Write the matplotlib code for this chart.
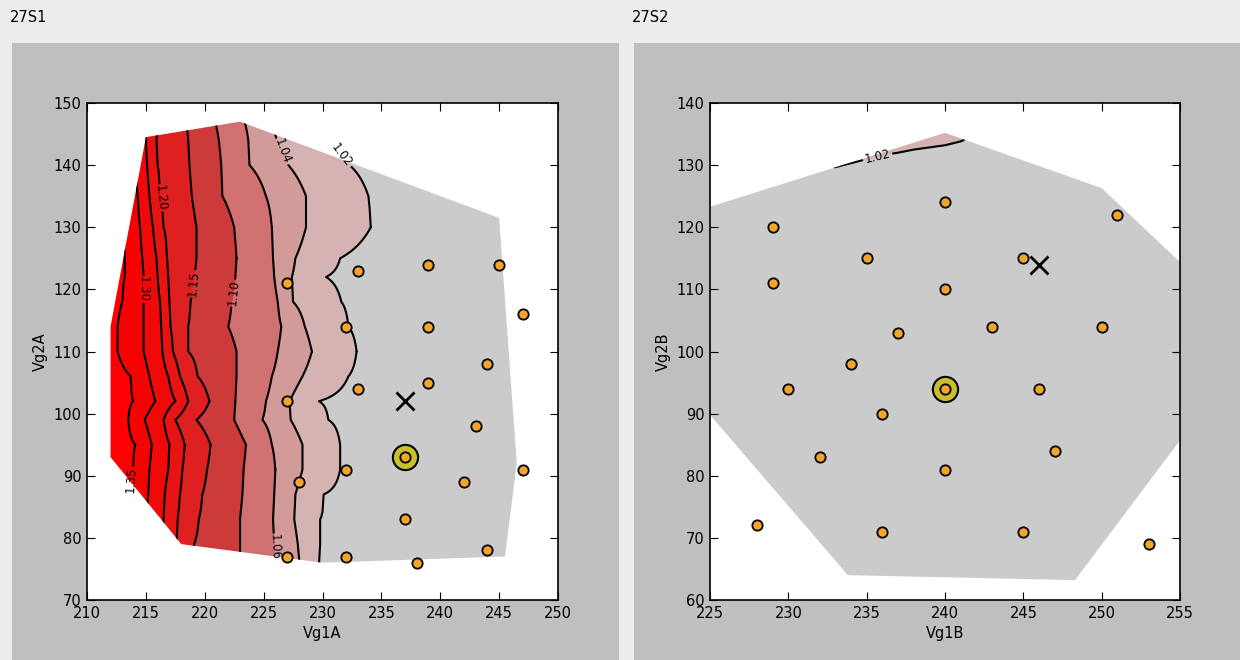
import numpy as np
import matplotlib.pyplot as plt
from matplotlib.patches import Polygon, Rectangle

# ---- left panel (27S1) data ----
levels_a = [1.02, 1.04, 1.06, 1.10, 1.15, 1.20, 1.25, 1.30, 1.35]
rows_a = [148, 144, 140, 135, 130, 125, 122, 118, 114, 110, 106, 102, 99, 95, 91, 87, 83, 79, 75]
# Vg1A where each contour level crosses the row above
cross_102 = [229.6, 229.6, 232.3, 233.9, 234.1, 231.5, 230.3, 231.6, 232.2, 232.9, 232.2, 229.7, 230.5, 231.5, 231.5, 230.1, 229.8, 229.8, 229.6]
cross_104 = [225.4, 226.1, 227.1, 228.6, 228.6, 227.7, 227.4, 227.5, 228.5, 229.1, 228.3, 227.2, 227.3, 228.3, 228.3, 227.7, 227.6, 227.9, 228.1]
cross_106 = [223.2, 223.7, 223.8, 225.2, 225.7, 225.8, 225.9, 226.2, 226.5, 226.2, 225.7, 225.2, 224.9, 225.7, 226.0, 225.9, 225.8, 225.9, 226.0]
cross_110 = [220.8, 221.2, 221.4, 221.5, 222.5, 222.7, 222.6, 222.3, 222.0, 222.7, 222.7, 222.6, 222.5, 223.5, 223.3, 223.2, 223.0, 223.0, 223.0]
cross_115 = [218.4, 218.6, 218.7, 218.9, 219.3, 219.3, 219.1, 218.8, 218.6, 218.6, 219.4, 220.4, 219.3, 220.5, 220.2, 219.8, 219.5, 219.1, 218.9]
cross_120 = [216.0, 215.9, 216.0, 216.2, 216.5, 216.8, 216.9, 217.0, 217.1, 217.3, 217.9, 218.6, 217.5, 218.3, 218.1, 217.9, 217.7, 217.6, 217.5]
cross_125 = [215.0, 215.0, 215.1, 215.3, 215.6, 215.9, 216.0, 216.2, 216.3, 216.4, 216.9, 217.5, 216.5, 217.0, 216.9, 216.6, 216.5, 216.4, 216.2]
cross_130 = [213.8, 213.9, 214.1, 214.3, 214.5, 214.7, 214.8, 214.8, 214.8, 214.8, 215.3, 215.8, 214.9, 215.5, 215.3, 215.2, 215.0, 214.9, 214.9]
cross_135 = [212.6, 212.6, 212.8, 213.0, 213.1, 213.2, 213.2, 213.0, 212.6, 212.6, 213.7, 213.9, 213.5, 214.1, 213.9, 213.7, 213.5, 213.4, 213.4]
hull_a = [(212, 93), (212, 114), (215, 144.5), (223, 147), (245, 131.5),
          (246.5, 92), (245.5, 77), (230, 76), (218, 79)]

pts_a_x = [227, 233, 239, 245, 247, 232, 239, 244, 233, 239, 227, 243, 232, 242, 247, 228, 237, 244, 227, 232, 238]
pts_a_y = [121, 123, 124, 124, 116, 114, 114, 108, 104, 105, 102, 98, 91, 89, 91, 89, 83, 78, 77, 77, 76]
best_a = (237, 93)
mark_a = (237, 102)

# ---- right panel (27S2) data ----
grid_b_x = [225, 230, 233, 236, 238, 240, 241, 242, 245, 255]
grid_b_y = [60, 126, 128, 130, 132, 134, 136]
grid_b_z = [
    [1.00, 1.00, 1.00, 1.00, 1.00, 1.00, 1.00, 1.00, 1.00, 1.00],
    [1.00, 1.00, 1.00, 1.00, 1.00, 1.00, 1.00, 1.00, 1.00, 1.00],
    [1.00, 1.00, 1.00, 1.00, 1.00, 1.00, 1.00, 1.00, 1.00, 1.00],
    [1.00, 1.005, 1.024, 1.00, 1.00, 1.00, 1.00, 1.00, 1.00, 1.00],
    [1.00, 1.015, 1.04, 1.025, 1.015, 1.005, 1.00, 1.00, 1.00, 1.00],
    [1.00, 1.03, 1.05, 1.04, 1.035, 1.03, 1.022, 1.01, 1.00, 1.00],
    [1.00, 1.04, 1.06, 1.05, 1.045, 1.04, 1.035, 1.02, 1.00, 1.00],
]
hull_b = [(225, 123.3), (240, 135.2), (250, 126.3), (255, 114.4),
          (255, 85.7), (248.3, 63.2), (233.8, 64), (225, 89.8)]

pts_b_x = [229, 229, 240, 251, 235, 245, 240, 237, 243, 250, 234, 230, 246, 236, 232, 240, 247, 228, 236, 245, 253]
pts_b_y = [120, 111, 124, 122, 115, 115, 110, 103, 104, 104, 98, 94, 94, 90, 83, 81, 84, 72, 71, 71, 69]
best_b = (240, 94)
mark_b = (246, 114)

band_colors = ['#cbcbcb', '#d5b3b3', '#d39a9a', '#d07070', '#cd3a3a',
               '#de2020', '#e81313', '#ef0909', '#f50303', '#ff0000']


def draw_panel(ax, X, Y, Z, hull, px, py, best, mark, label_pos):
    fill_levels = [0.9] + levels_a + [1.6]
    clip = Polygon(hull, closed=True, transform=ax.transData,
                   facecolor='none', edgecolor='none')
    ax.add_patch(clip)
    cf = ax.contourf(X, Y, Z, levels=fill_levels, colors=band_colors)
    cf.set_clip_path(clip)
    cl = ax.contour(X, Y, Z, levels=levels_a, colors='k', linewidths=1.5)
    cl.set_clip_path(clip)
    if label_pos:
        ax.clabel(cl, fmt='%.2f', fontsize=8.5, inline=True,
                  inline_spacing=2, manual=label_pos)
    ax.scatter([best[0]], [best[1]], s=330, c='#c8c02a', edgecolors='k',
               linewidths=1.5, zorder=4)
    ax.scatter(px + [best[0]], py + [best[1]], s=55, c='#f2a52a',
               edgecolors='k', linewidths=1.3, zorder=5)
    ax.plot([mark[0]], [mark[1]], 'x', color='k', ms=13, mew=2, zorder=6)
    ax.tick_params(direction='in', top=True, right=True, length=6,
                   labelsize=10.5, pad=4)
    for s in ax.spines.values():
        s.set_linewidth(1.2)


fig = plt.figure(figsize=(12.4, 6.6), dpi=100, facecolor='#ececec')
W, H = 1240.0, 660.0
fig.add_artist(Rectangle((12 / W, 0), 607 / W, 617 / H, transform=fig.transFigure,
                         facecolor='#bfbfbf', edgecolor='none', zorder=0))
fig.add_artist(Rectangle((634 / W, 0), 606 / W, 617 / H, transform=fig.transFigure,
                         facecolor='#bfbfbf', edgecolor='none', zorder=0))
fig.text(10 / W, 1 - 18 / H, '27S1', fontsize=10.5, va='center')
fig.text(632 / W, 1 - 18 / H, '27S2', fontsize=10.5, va='center')

# left
ax1 = fig.add_axes([87 / W, 60 / H, 471 / W, 497 / H])
xg = np.arange(205, 252.01, 0.1)
crossings = [cross_102, cross_104, cross_106, cross_110, cross_115,
             cross_120, cross_125, cross_130, cross_135]
za = []
for i in range(len(rows_a)):
    xs = [205] + [c[i] for c in crossings][::-1] + [252]
    zs = [1.45] + levels_a[::-1] + [0.98]
    za.append(np.interp(xg, xs, zs))
XA, YA = np.meshgrid(xg, rows_a)
draw_panel(ax1, XA, YA, np.array(za), hull_a, pts_a_x, pts_a_y, best_a, mark_a,
           [(231.3, 141.3), (226.4, 142.1), (226.0, 78.5), (222.4, 119.4),
            (218.4, 121.0), (216.2, 134.7), (214.8, 120.0), (213.4, 89.3)])
ax1.set_xlim(210, 250)
ax1.set_ylim(70, 150)
ax1.set_xticks(range(210, 251, 5))
ax1.set_yticks(range(70, 151, 10))
ax1.set_xlabel('Vg1A', fontsize=10.5)
ax1.set_ylabel('Vg2A', fontsize=10.5)

# right
ax2 = fig.add_axes([710 / W, 60 / H, 470 / W, 497 / H])
XB, YB = np.meshgrid(grid_b_x, grid_b_y)
draw_panel(ax2, XB, YB, np.array(grid_b_z), hull_b, pts_b_x, pts_b_y, best_b, mark_b,
           [(235.7, 131.3)])
ax2.set_xlim(225, 255)
ax2.set_ylim(60, 140)
ax2.set_xticks(range(225, 256, 5))
ax2.set_yticks(range(60, 141, 10))
ax2.set_xlabel('Vg1B', fontsize=10.5)
ax2.set_ylabel('Vg2B', fontsize=10.5)

fig.savefig('out.png', dpi=100, facecolor=fig.get_facecolor())
